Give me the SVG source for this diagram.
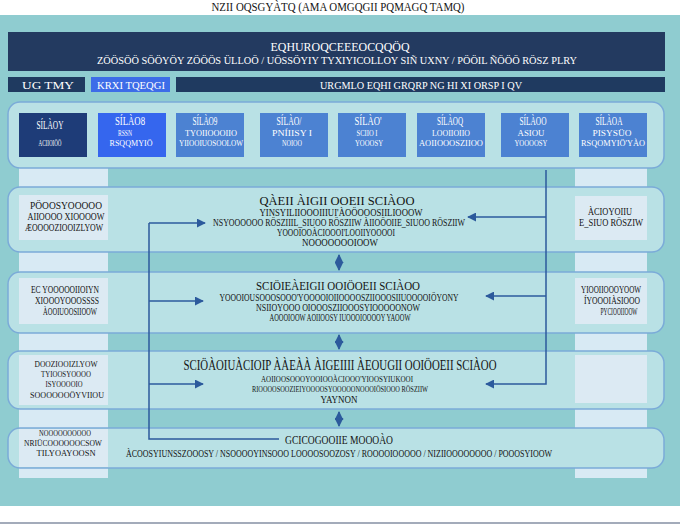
<svg xmlns="http://www.w3.org/2000/svg" width="680" height="525" viewBox="0 0 680 525">
<defs>
<marker id="ah" viewBox="0 0 10 10" refX="9" refY="5" markerWidth="6" markerHeight="6" orient="auto-start-reverse">
<path d="M0,0 L10,5 L0,10 Z" fill="#2C5A9C"/>
</marker>
<style>
.t{font-family:"Liberation Serif",serif;text-anchor:middle}
.w{fill:#ffffff}
.k{fill:#141414}
.pnl{fill:#B9E1E5;stroke:#7BABD8;stroke-width:1.5}
.col{fill:#D8EAF4}
.ib{fill:#DCEAF3}
.cn{stroke:#2C5A9C;stroke-width:1.5;fill:none}
.s1{font-size:12px}
.s2{font-size:9.5px}
.s3{font-size:9px}
</style>
</defs>
<rect x="0" y="0" width="680" height="525" fill="#ffffff"/>
<rect x="0" y="15" width="680" height="491" fill="#8FCCD0"/>
<line x1="0" y1="523" x2="680" y2="523" stroke="#A3ABBA" stroke-width="2"/>
<text class="t k" x="338" y="11" font-size="13" textLength="253" lengthAdjust="spacingAndGlyphs">NZII  OQSGYÀTQ (AMA OMGQGII PQMAGQ TAMQ)</text>

<g id="header">
<rect x="8" y="32" width="657" height="39" fill="#233A60"/>
<text class="t w" x="340" y="51" font-size="13" textLength="139" lengthAdjust="spacingAndGlyphs">EQHUROQCEEEOCQQÖQ</text>
<text class="t w" x="337" y="64" font-size="10.5" textLength="480" lengthAdjust="spacingAndGlyphs">ZÖÖSÖÖ SÖÖYÖY ZÖÖÖS ÜLLOÖ / UÖSSÖYIY TYXIYICOLLOY SIÑ UXNY / PÖÖIL ÑÖÖÖ RÖSZ PLRY</text>
</g>

<g id="tabs">
<rect x="8" y="77" width="77" height="15" fill="#1F3A60"/>
<text class="t w" x="48" y="89" font-size="11" textLength="52" lengthAdjust="spacingAndGlyphs">UG TMY</text>
<rect x="91" y="77" width="79" height="15" fill="#3D6CE8"/>
<text class="t w" x="131" y="89" font-size="11" textLength="68" lengthAdjust="spacingAndGlyphs">KRXI TQEQGI</text>
<rect x="176" y="77" width="489" height="15" fill="#1F3A60"/>
<text class="t w" x="421" y="89" font-size="11" textLength="202" lengthAdjust="spacingAndGlyphs">URGMLO EQHI GRQRP NG HI XI ORSP I QV</text>
</g>

<g id="columns">
<rect class="col" x="19" y="168" width="89" height="310"/>
<rect class="col" x="575" y="168" width="72" height="310"/>
</g>

<g id="panel1">
<rect class="pnl" x="8" y="102" width="656" height="66" rx="12"/>
<rect x="19" y="113" width="68" height="44" fill="#1E3C78"/>
<text class="t w s1" x="50" y="129" textLength="27" lengthAdjust="spacingAndGlyphs">SÍLÀOY</text>
<text class="t w s3" x="50" y="146" textLength="23" lengthAdjust="spacingAndGlyphs">ACIIOIÖÖ</text>
<rect x="98" y="113" width="68" height="44" fill="#3566EE"/>
<text class="t w s1" x="130" y="125" textLength="30" lengthAdjust="spacingAndGlyphs">SÍLÀO8</text>
<text class="t w s3" x="125" y="136" textLength="14" lengthAdjust="spacingAndGlyphs">RSSN</text>
<text class="t w s3" x="131" y="146" textLength="43" lengthAdjust="spacingAndGlyphs">RSQQMYIÖ</text>
<rect x="176" y="113" width="68" height="44" fill="#4C82D2"/>
<text class="t w s1" x="205" y="125" textLength="25" lengthAdjust="spacingAndGlyphs">SÍLÀO9</text>
<text class="t w s3" x="211" y="136" textLength="52" lengthAdjust="spacingAndGlyphs">TYOIIOOOIIO</text>
<text class="t w s3" x="211" y="146" textLength="64" lengthAdjust="spacingAndGlyphs">YIIOOIUOSOOLOW</text>
<rect x="260" y="113" width="68" height="44" fill="#4C82D2"/>
<text class="t w s1" x="289" y="125" textLength="25" lengthAdjust="spacingAndGlyphs">SÍLÀO/</text>
<text class="t w s3" x="292" y="136" textLength="40" lengthAdjust="spacingAndGlyphs">PNÍIISY I</text>
<text class="t w s3" x="292" y="146" textLength="20" lengthAdjust="spacingAndGlyphs">NOIOO</text>
<rect x="338" y="113" width="68" height="44" fill="#4C82D2"/>
<text class="t w s1" x="368" y="125" textLength="27" lengthAdjust="spacingAndGlyphs">SÍLÀO'</text>
<text class="t w s3" x="367" y="136" textLength="21" lengthAdjust="spacingAndGlyphs">SCIIO I</text>
<text class="t w s3" x="369" y="146" textLength="28" lengthAdjust="spacingAndGlyphs">YOOOSY</text>
<rect x="417" y="113" width="68" height="44" fill="#4C82D2"/>
<text class="t w s1" x="450" y="125" textLength="26" lengthAdjust="spacingAndGlyphs">SÍLÀOQ</text>
<text class="t w s3" x="451" y="136" textLength="38" lengthAdjust="spacingAndGlyphs">LOOIIOIIO</text>
<text class="t w s3" x="451" y="146" textLength="64" lengthAdjust="spacingAndGlyphs">AOIIOOOSZIIOO</text>
<rect x="501" y="113" width="68" height="44" fill="#4C82D2"/>
<text class="t w s1" x="533" y="125" textLength="27" lengthAdjust="spacingAndGlyphs">SÍLÀOO</text>
<text class="t w s3" x="531" y="136" textLength="27" lengthAdjust="spacingAndGlyphs">ASIOU</text>
<text class="t w s3" x="531" y="146" textLength="33" lengthAdjust="spacingAndGlyphs">YOOOOSY</text>
<rect x="579" y="113" width="68" height="44" fill="#4C82D2"/>
<text class="t w s1" x="609" y="125" textLength="27" lengthAdjust="spacingAndGlyphs">SÍLÀOA</text>
<text class="t w s3" x="612" y="136" textLength="39" lengthAdjust="spacingAndGlyphs">PISYSÜO</text>
<text class="t w s3" x="613" y="146" textLength="64" lengthAdjust="spacingAndGlyphs">RSQOMYIÖ'YÀO</text>
</g>

<g id="panel2">
<rect class="pnl" x="8" y="187" width="656" height="65" rx="12"/>
<rect class="ib" x="19" y="195" width="89" height="45"/>
<text class="t k s2" x="66" y="209" textLength="72" lengthAdjust="spacingAndGlyphs">PÖOOSYOOOOO</text>
<text class="t k s2" x="66" y="220" textLength="77" lengthAdjust="spacingAndGlyphs">AIIOOOO XIOOOOW</text>
<text class="t k s2" x="64" y="231" textLength="78" lengthAdjust="spacingAndGlyphs">ÆOOOOZIOOIZLYOW</text>
<rect class="ib" x="575" y="196" width="72" height="44"/>
<text class="t k s2" x="610" y="215" textLength="44" lengthAdjust="spacingAndGlyphs">ÀCIOYOIIU</text>
<text class="t k s2" x="611" y="226" textLength="64" lengthAdjust="spacingAndGlyphs">E_SIUO RÖSZIW</text>
<text class="t k" x="337" y="205" font-size="13" textLength="155" lengthAdjust="spacingAndGlyphs">QÀEII ÀIGII OOEII SCIÀOO</text>
<text class="t k s2" x="341" y="216" textLength="163" lengthAdjust="spacingAndGlyphs">YINSYILIIOOOIIIUI'ÀOÖOOOSIILIOOOW</text>
<text class="t k s2" x="339" y="226" textLength="252" lengthAdjust="spacingAndGlyphs">NSYOOOOOO RÖSZIIIL_SIUOO RÖSZIIW ÀIIOÖOIIE_SIUOO RÖSZIIW</text>
<text class="t k s2" x="336" y="236" textLength="118" lengthAdjust="spacingAndGlyphs">YOOOIOOÀCIOOOI'LOOIIYOOOOI</text>
<text class="t k s2" x="340" y="246" textLength="76" lengthAdjust="spacingAndGlyphs">NOOOOOOOIOOW</text>
</g>

<g id="panel3">
<rect class="pnl" x="8" y="272" width="656" height="61" rx="12"/>
<rect class="ib" x="19" y="278" width="89" height="46"/>
<text class="t k s2" x="65" y="293" textLength="68" lengthAdjust="spacingAndGlyphs">EC YOOOOOIIOIYN</text>
<text class="t k s2" x="67" y="304" textLength="64" lengthAdjust="spacingAndGlyphs">XIOOOYOOOSSSS</text>
<text class="t k s2" x="70" y="315" textLength="54" lengthAdjust="spacingAndGlyphs">ÀOOIUOOSIIOOW</text>
<rect class="ib" x="575" y="278" width="72" height="46"/>
<text class="t k s2" x="611" y="293" textLength="60" lengthAdjust="spacingAndGlyphs">YIOOIIOOOYOOW</text>
<text class="t k s2" x="612" y="304" textLength="56" lengthAdjust="spacingAndGlyphs">ÍYOOOIÀSIOOO</text>
<text class="t k s2" x="619" y="315" textLength="37" lengthAdjust="spacingAndGlyphs">PYCIOOIIOOW</text>
<text class="t k" x="338" y="290" font-size="13" textLength="164" lengthAdjust="spacingAndGlyphs">SCIÖIEÀEIGII OOIÖOEII SCIÀOO</text>
<text class="t k s2" x="339" y="301" textLength="239" lengthAdjust="spacingAndGlyphs">YOOOIOUSOOOSOOO'YOOOOIOIIOOOOSZIIOOOSIIUOOOOIÖYONY</text>
<text class="t k s2" x="338" y="311" textLength="164" lengthAdjust="spacingAndGlyphs">NSIIOYOOO OIOOOSZIIOOOSYIOOOOONOW</text>
<text class="t k s2" x="340" y="321" textLength="141" lengthAdjust="spacingAndGlyphs">AOOOIOOW AOIIOOSY IUOOOIOOOOY YAOOW</text>
</g>

<g id="panel4">
<rect class="pnl" x="8" y="351" width="656" height="58" rx="12"/>
<rect class="ib" x="19" y="355" width="89" height="50"/>
<text class="t k s3" x="66" y="367" textLength="63" lengthAdjust="spacingAndGlyphs">DOOZIOOIZLYOW</text>
<text class="t k s3" x="66" y="377" textLength="50" lengthAdjust="spacingAndGlyphs">TYIOOSYOOOO</text>
<text class="t k s3" x="64" y="387" textLength="37" lengthAdjust="spacingAndGlyphs">ISYOOOOIO</text>
<text class="t k s3" x="67" y="398" textLength="74" lengthAdjust="spacingAndGlyphs">SOOOOOOÖYVIIOU</text>
<rect class="ib" x="575" y="355" width="72" height="48"/>
<text class="t k" x="340" y="370" font-size="14" textLength="313" lengthAdjust="spacingAndGlyphs">SCIÖÀOIUÀCIOIP ÀÀEÀÀ ÀIGEIIII ÀEOUGII OOIÖOEII SCIÀOO</text>
<text class="t k s3" x="337" y="382" textLength="152" lengthAdjust="spacingAndGlyphs">AOIIOOSOOOYOOIOOÀCIOOO'YIOOSYIUKOOI</text>
<text class="t k s3" x="340" y="392" textLength="176" lengthAdjust="spacingAndGlyphs">RIOOOOSOOZIEIYOOOOSYOOOOONOOOIÖSIOOO RÖSZIIW</text>
<text class="t k" x="339" y="403" font-size="10" textLength="37" lengthAdjust="spacingAndGlyphs">YAYNON</text>
</g>

<g id="panel5">
<rect class="pnl" x="8" y="428" width="656" height="40" rx="12"/>
<rect class="ib" x="19" y="429" width="89" height="38"/>
<text class="t k s3" x="65" y="436" textLength="52" lengthAdjust="spacingAndGlyphs">NOOOOOOOOOO</text>
<text class="t k s3" x="63" y="446" textLength="78" lengthAdjust="spacingAndGlyphs">NRIÜCOOOOOOCSOW</text>
<text class="t k s3" x="66" y="456" textLength="59" lengthAdjust="spacingAndGlyphs">TILYOAYOOSN</text>
<text class="t k" x="339" y="444" font-size="13" textLength="108" lengthAdjust="spacingAndGlyphs">GCICOGOOIIE MOOOÀO</text>
<text class="t k s2" x="339" y="457" textLength="426" lengthAdjust="spacingAndGlyphs">ÀCOOSYIUNSSZOOOSY / NSOOOOYINSOOO LOOOOSOOZOSY / ROOOOIOOOOO / NIZIIOOOOOOOO / POOOSYIOOW</text>
</g>

<g id="connectors">
<path class="cn" d="M149,223 V439 H279"/>
<path class="cn" d="M149,223 H205" marker-end="url(#ah)"/>
<path class="cn" d="M149,301 H203" marker-end="url(#ah)"/>
<path class="cn" d="M149,384 H203" marker-end="url(#ah)"/>
<path class="cn" d="M546,170 V384 H486" marker-end="url(#ah)"/>
<path class="cn" d="M546,217 H468" marker-end="url(#ah)"/>
<path class="cn" d="M546,296 H486" marker-end="url(#ah)"/>
<path class="cn" d="M339,255 V270" marker-start="url(#ah)" marker-end="url(#ah)"/>
<path class="cn" d="M339,335 V349" marker-start="url(#ah)" marker-end="url(#ah)"/>
<path class="cn" d="M339,412 V426" marker-start="url(#ah)" marker-end="url(#ah)"/>
</g>
</svg>
